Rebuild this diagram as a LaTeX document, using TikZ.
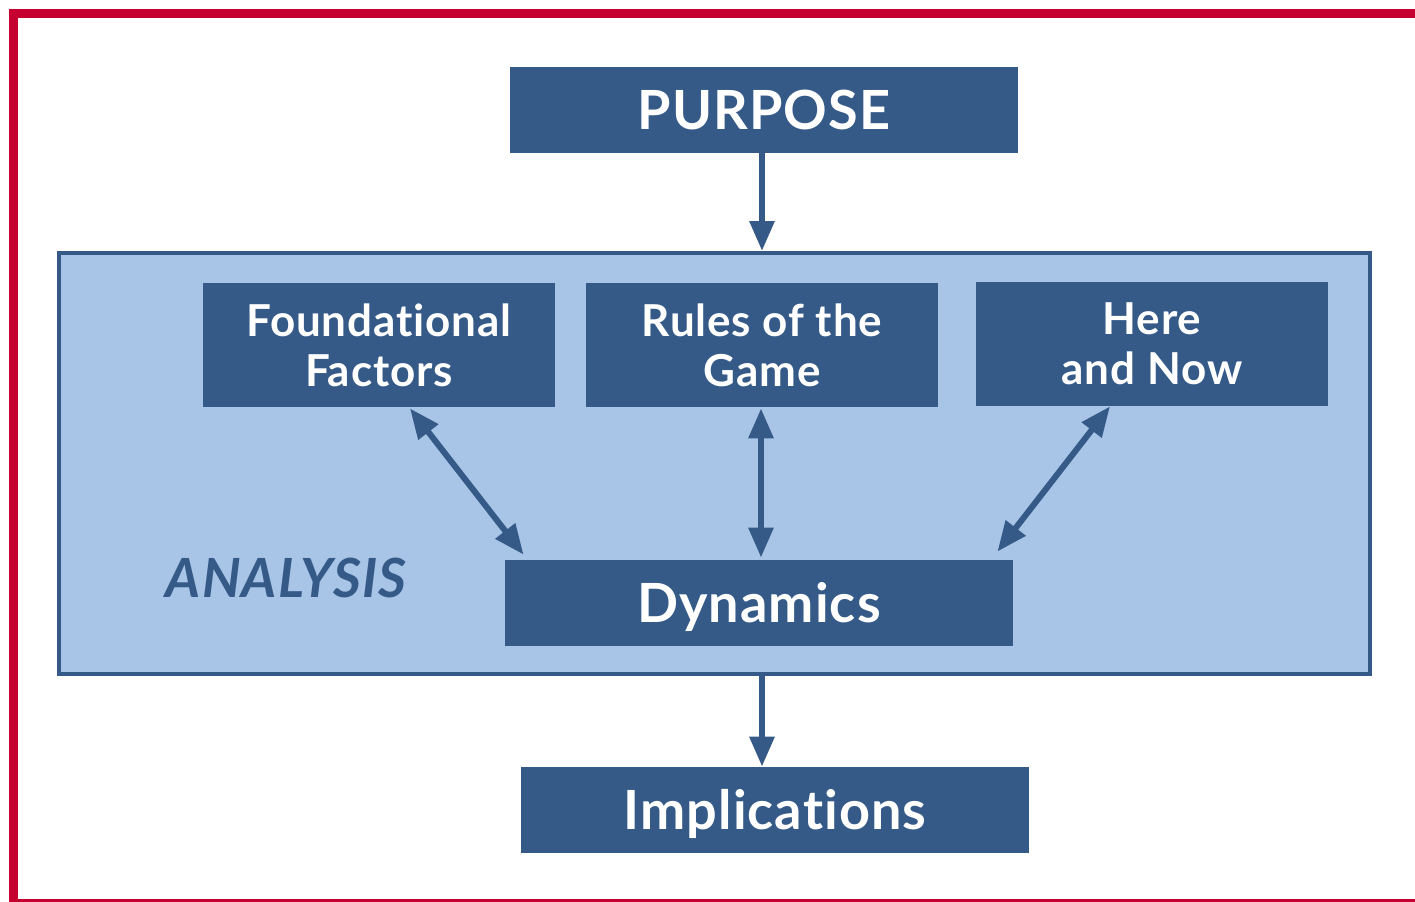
\documentclass[tikz,border=0pt]{standalone}
\usepackage{fontspec}
\setmainfont{Lato}[LetterSpace=2,Ligatures={NoCommon,NoDiscretionary,NoContextual}]
\usetikzlibrary{arrows.meta,calc}

\definecolor{boxblue}{HTML}{355A88}
\definecolor{paleblue}{HTML}{A8C4E6}
\definecolor{framered}{HTML}{C70032}

\tikzset{
    bigbox/.style={fill=boxblue,text=white,inner sep=0pt,minimum width=254pt,minimum height=43pt,
        text height=19.2pt,text depth=0pt,font=\fontsize{27}{30}\selectfont\bfseries},
    smallbox/.style={fill=boxblue,text=white,inner sep=0pt,minimum width=176pt,minimum height=62pt,align=center,font=\fontsize{22}{25}\selectfont\bfseries},
    flow/.style={draw=boxblue,line width=3pt,-{Triangle[length=15pt,width=12pt]}},
    twoway/.style={draw=boxblue,line width=3pt,{Triangle[length=15pt,width=12pt]}-{Triangle[length=15pt,width=12pt]}}
}

\begin{document}
\begin{tikzpicture}[x=0.5pt,y=-0.5pt]
    \useasboundingbox (0,0) rectangle (1415,901);
    \clip (0,0) rectangle (1415,901);

    % outer red frame, open on the right
    \draw[framered,line width=4.5pt] (13.5,13.5) rectangle (1450,903.5);

    % analysis block
    \node[draw=boxblue,fill=paleblue,line width=2pt,inner sep=0pt,
          minimum width=655.5pt,minimum height=210.5pt] (analysis) at (714.5,463.5) {};
    \node[text=boxblue,font=\fontsize{27}{30}\selectfont\bfseries\itshape] (label) at (286,578) {ANALYSIS};

    \node[bigbox] (purpose) at (764,110) {PURPOSE};
    \node[smallbox] (found) at (379,345) {Foundational\\Factors};
    \node[smallbox] (rules) at (762,345) {Rules of the\\Game};
    \node[smallbox] (here) at (1152,344) {Here\\and Now};
    \node[bigbox] (dyn) at (759,603) {Dynamics};
    \node[bigbox] (impl) at (775,810) {Implications};

    % connectors
    \draw[flow] (purpose.south -| rules.south) -- (analysis.north -| rules.south);
    \draw[twoway] ($(found.south)+(31,1)$) -- ($(dyn.north west)+(19,-5)$);
    \draw[twoway] ($(rules.south)+(-1,1)$) -- ($(dyn.north)+(2,-2)$);
    \draw[twoway] ($(here.south)+(-42,0)$) -- ($(dyn.north east)+(-16,-8)$);
    \draw[flow] (analysis.south -| rules.south) -- (impl.north -| rules.south);
\end{tikzpicture}
\end{document}
